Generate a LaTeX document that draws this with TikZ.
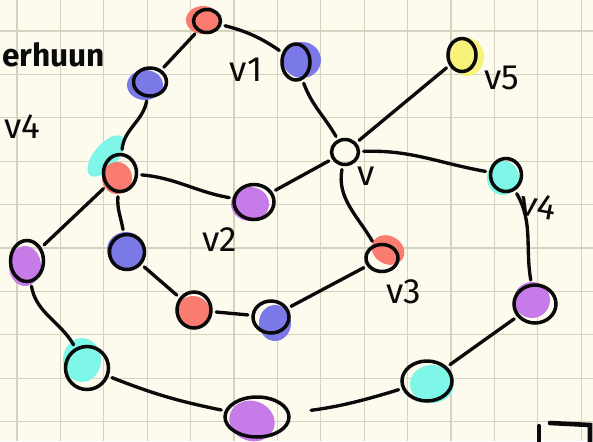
\documentclass[tikz,border=0pt]{standalone}
\usepackage{fontspec}
\setmainfont{Fira Sans}
\usetikzlibrary{shapes.geometric}
\definecolor{paper}{HTML}{FDFBEE}
\definecolor{gridc}{HTML}{D6D2C0}
\definecolor{ink}{HTML}{0A0A0A}
\definecolor{cred}{HTML}{FA7C70}
\definecolor{cblue}{HTML}{7B78E8}
\definecolor{cpurple}{HTML}{C77BE8}
\definecolor{ccyan}{HTML}{7EF7E8}
\definecolor{cyellow}{HTML}{F8F17A}
\tikzset{
  vtx/.style={ellipse, draw=ink, line width=2pt, inner sep=0pt},
  edge/.style={draw=ink, line width=1.9pt, line cap=round, shorten >=2pt, shorten <=2pt},
  lbl/.style={text=ink, font=\fontsize{20}{24}\selectfont, inner sep=0pt},
}
\begin{document}
\begin{tikzpicture}[x=0.02cm,y=-0.02cm]
% paper and squared grid
\fill[paper] (0,0) rectangle (593,441);
\useasboundingbox (0,0) rectangle (593,441);
\begin{scope}
\clip (0,0) rectangle (593,441);
\foreach \i in {0,...,13} {
  \draw[gridc, line width=0.7pt] ({17+43.4*\i},0) -- ({17+43.4*\i},441);
}
\foreach \j in {-1,...,10} {
  \draw[gridc, line width=0.7pt] (0,{31+43.4*\j}) -- (593,{31+43.4*\j});
}

% colour blobs behind the vertex outlines
\fill[cred] (203,20) ellipse [x radius=17, y radius=14];
\fill[cblue] (145,85) ellipse [x radius=18, y radius=15];
\fill[cblue] (302,60) ellipse [x radius=19, y radius=18];
\fill[cyellow] (467,57) ellipse [x radius=17, y radius=19];
\fill[ccyan] (503,178) ellipse [x radius=16, y radius=17];
\fill[ccyan] (106,156) ellipse [x radius=12, y radius=25, rotate=-40];
\fill[cred] (117,178) ellipse [x radius=15, y radius=16];
\fill[cpurple] (250,204) ellipse [x radius=19, y radius=17];
\fill[cpurple] (25,266) ellipse [x radius=16, y radius=20];
\fill[cblue] (126,250) ellipse [x radius=19, y radius=18];
\fill[cred] (193,312) ellipse [x radius=17, y radius=16];
\fill[cblue] (275,323) ellipse [x radius=16, y radius=18];
\fill[ccyan] (82,360) ellipse [x radius=19, y radius=22];
\fill[cpurple] (252,421) ellipse [x radius=23, y radius=20, rotate=-20];
\fill[cred] (388,250) ellipse [x radius=17, y radius=14, rotate=-30];
\fill[cpurple] (532,300) ellipse [x radius=18, y radius=18];
\fill[ccyan] (432,384) ellipse [x radius=22, y radius=19];

% vertices
\node[vtx, minimum width=0.54cm, minimum height=0.46cm] (r1) at (207,21) {};
\node[vtx, minimum width=0.66cm, minimum height=0.56cm] (b1) at (150,82) {};
\node[vtx, minimum width=0.56cm, minimum height=0.72cm] (v1) at (296,62) {};
\node[vtx, minimum width=0.54cm, minimum height=0.50cm] (v) at (345,152) {};
\node[vtx, minimum width=0.56cm, minimum height=0.66cm] (v5) at (462,55) {};
\node[vtx, minimum width=0.62cm, minimum height=0.66cm] (v4) at (506,175) {};
\node[vtx, minimum width=0.66cm, minimum height=0.74cm] (r2) at (120,173) {};
\node[vtx, minimum width=0.80cm, minimum height=0.70cm] (p1) at (254,202) {};
\node[vtx, minimum width=0.66cm, minimum height=0.82cm] (pL) at (27,261) {};
\node[vtx, minimum width=0.70cm, minimum height=0.70cm] (b2) at (127,252) {};
\node[vtx, minimum width=0.68cm, minimum height=0.72cm] (r3) at (194,310) {};
\node[vtx, minimum width=0.72cm, minimum height=0.64cm] (b3) at (271,317) {};
\node[vtx, minimum width=0.86cm, minimum height=0.86cm] (cL) at (87,368) {};
\node[vtx, minimum width=1.28cm, minimum height=0.80cm] (pB) at (257,417) {};
\node[vtx, minimum width=0.64cm, minimum height=0.54cm] (r4) at (382,258) {};
\node[vtx, minimum width=0.84cm, minimum height=0.76cm] (pR) at (535,304) {};
\node[vtx, minimum width=1.00cm, minimum height=0.80cm] (cR) at (427,381) {};

% edges
\draw[edge] (r1) -- (b1);
\draw[edge] (r1) to[bend left=10] (v1);
\draw[edge] (v1) to[out=-70, in=120] (v);
\draw[edge] (v) -- (v5);
\draw[edge] (v) to[out=2, in=170] (v4);
\draw[edge] (v) -- (p1);
\draw[edge] (v) to[out=-100, in=120] (r4);
\draw[edge] (b1) to[out=-100, in=85] (r2);
\draw[edge] (r2) to[out=-5, in=170] (p1);
\draw[edge] (r2) -- (pL);
\draw[edge] (r2) to[out=-95, in=100] (b2);
\draw[edge] (b2) -- (r3);
\draw[edge] (r3) -- (b3);
\draw[edge] (b3) -- (r4);
\draw[edge] (pL) to[out=-80, in=120] (cL);
\draw[edge] (cL) to[bend right=5] (pB);
\draw[edge, shorten <=12pt] (pB) to[bend right=5] (cR);
\draw[edge] (cR) -- (pR);
\draw[edge] (pR) to[out=100, in=-60] (v4);

% labels
\node[text=ink, font=\fontsize{18}{22}\selectfont\bfseries, anchor=west, inner sep=0pt] (note) at (2,55) {erhuun};
\node[lbl] (t4) at (22,127) {v4};
\node[lbl] (t1) at (246,70) {v1};
\node[lbl] (t2) at (220,240) {v2};
\node[lbl] (tv) at (366,176) {v};
\node[lbl] (t3) at (404,292) {v3};
\node[lbl] (t5) at (502,78) {v5};
\node[lbl, rotate=-10] (t4r) at (538,206) {v4};

% corner mark
\draw[ink, line width=2.4pt, line cap=round] (539,426) -- (539,445);
\draw[ink, line width=2.6pt, line cap=round] (550,423) -- (590,425) -- (590,445);
\end{scope}
\end{tikzpicture}
\end{document}
